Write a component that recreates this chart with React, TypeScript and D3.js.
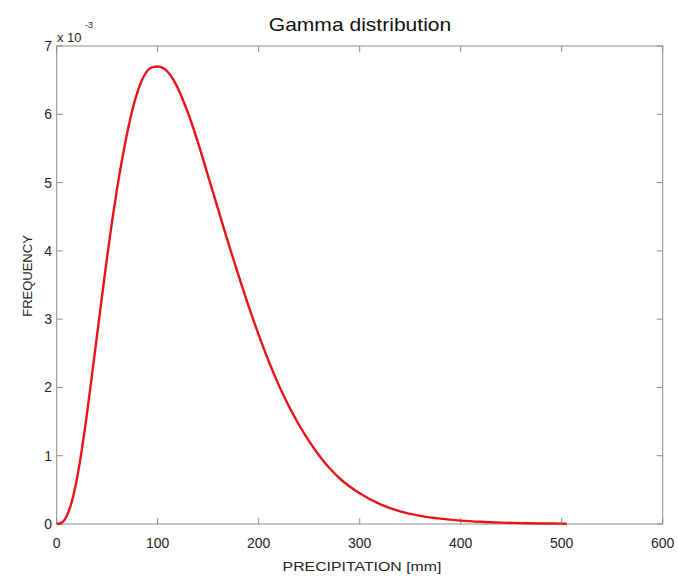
import React, { useEffect, useRef } from 'react';
import * as d3 from 'd3';

// precipitation (mm)
const precip = [
  0, 5, 10, 15, 20, 25, 30, 35, 40, 45, 50, 55, 60, 65, 70, 75, 80, 85, 90, 95,
  100, 105, 110, 115, 120, 125, 130, 135, 140, 145, 150, 160, 170, 180, 190, 200,
  210, 220, 230, 240, 250, 260, 270, 280, 290, 300, 320, 340, 360, 380, 400, 420,
  440, 460, 480, 500, 505,
];
// frequency, in units of 1e-3
const freq = [
  0, 0.02, 0.12, 0.33, 0.66, 1.1, 1.62, 2.19, 2.77, 3.35, 3.92, 4.45, 4.93, 5.36, 5.74, 6.07, 6.33, 6.52, 6.64, 6.69,
  6.7, 6.68, 6.62, 6.52, 6.38, 6.21, 6.02, 5.81, 5.58, 5.34, 5.09, 4.6, 4.11, 3.64, 3.19, 2.77,
  2.38, 2.03, 1.72, 1.45, 1.21, 1.0, 0.82, 0.67, 0.55, 0.45, 0.29, 0.185, 0.12, 0.078, 0.05, 0.032,
  0.02, 0.013, 0.008, 0.005, 0.004,
];
const xTicks = [0, 100, 200, 300, 400, 500, 600];
const yTicks = [0, 1, 2, 3, 4, 5, 6, 7];

const W = 678;
const H = 576;
const axisColor = '#8c8c8c';
const textColor = '#262626';
const font = '"Liberation Sans", Arial, sans-serif';

const GammaChart = () => {
  const ref = useRef<SVGSVGElement>(null);

  useEffect(() => {
    const svg = d3.select(ref.current);
    svg.selectAll('*').remove();

    const left = 56.7, right = 662.7, top = 46, bottom = 524;

    const x = d3.scaleLinear().domain([0, 600]).range([left, right]);
    const y = d3.scaleLinear().domain([0, 7]).range([bottom, top]);

    // frame
    svg.append('rect')
      .attr('x', left).attr('y', top)
      .attr('width', right - left).attr('height', bottom - top)
      .attr('fill', 'none').attr('stroke', axisColor).attr('stroke-width', 1);

    // ticks point inward, on all four sides
    const tl = 6;
    xTicks.forEach(t => {
      svg.append('line').attr('x1', x(t)).attr('x2', x(t)).attr('y1', bottom).attr('y2', bottom - tl)
        .attr('stroke', axisColor);
      svg.append('line').attr('x1', x(t)).attr('x2', x(t)).attr('y1', top).attr('y2', top + tl)
        .attr('stroke', axisColor);
      svg.append('text')
        .attr('x', x(t)).attr('y', 548)
        .attr('text-anchor', 'middle')
        .attr('font-size', 14).attr('fill', textColor)
        .text(t);
    });
    yTicks.forEach(t => {
      svg.append('line').attr('x1', left).attr('x2', left + tl).attr('y1', y(t)).attr('y2', y(t))
        .attr('stroke', axisColor);
      svg.append('line').attr('x1', right).attr('x2', right - tl).attr('y1', y(t)).attr('y2', y(t))
        .attr('stroke', axisColor);
      svg.append('text')
        .attr('x', 52).attr('y', y(t) + 5)
        .attr('text-anchor', 'end')
        .attr('font-size', 14).attr('fill', textColor)
        .text(t);
    });

    // exponent label
    svg.append('text').attr('x', 57).attr('y', 42)
      .attr('font-size', 13).attr('fill', textColor).text('x 10');
    svg.append('text').attr('x', 85).attr('y', 28)
      .attr('font-size', 9).attr('fill', textColor).text('-3');

    // curve
    const pts = precip.map((p, i) => [p, freq[i]] as [number, number]);
    const line = d3.line<[number, number]>()
      .x(d => x(d[0]))
      .y(d => y(d[1]))
      .curve(d3.curveMonotoneX);
    svg.append('path')
      .datum(pts)
      .attr('fill', 'none')
      .attr('stroke', '#e8141a')
      .attr('stroke-width', 2.4)
      .attr('stroke-linejoin', 'round')
      .attr('d', line);

    // title and axis labels (the source looks stretched sideways a bit)
    svg.append('text')
      .attr('transform', 'translate(360,31) scale(1.17,1)')
      .attr('text-anchor', 'middle')
      .attr('font-size', 18).attr('fill', '#111')
      .text('Gamma distribution');
    svg.append('text')
      .attr('transform', 'translate(362,571) scale(1.22,1)')
      .attr('text-anchor', 'middle')
      .attr('font-size', 13).attr('fill', textColor)
      .text('PRECIPITATION [mm]');
    svg.append('text')
      .attr('transform', 'translate(32,276) rotate(-90)')
      .attr('text-anchor', 'middle')
      .attr('font-size', 13).attr('fill', textColor)
      .text('FREQUENCY');
  }, []);

  return (
    <svg ref={ref} width={W} height={H}
      style={{ position: 'absolute', left: 0, top: 0, background: '#fff', fontFamily: font }} />
  );
};

export default function App() {
  return <GammaChart />;
}
